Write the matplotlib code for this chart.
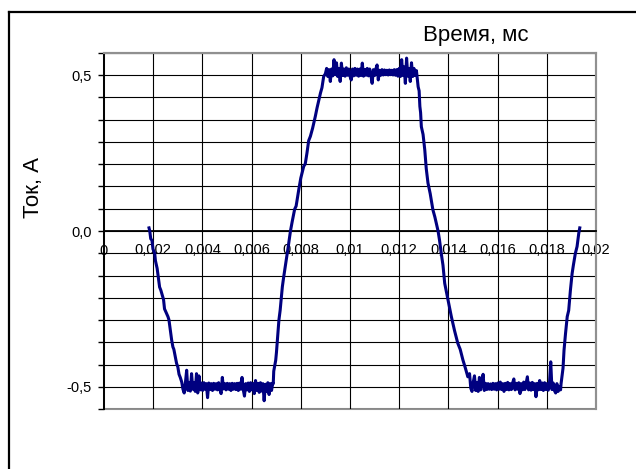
import numpy as np
import matplotlib
matplotlib.use('Agg')
import matplotlib.pyplot as plt
from matplotlib.lines import Line2D
from matplotlib.patches import Rectangle

plt.rcParams['font.family'] = ['Liberation Sans', 'DejaVu Sans']

# ramps: explicit (time, current) points
fall1_t = [0.00183, 0.00186, 0.00190, 0.00195, 0.00199, 0.00206, 0.00209, 0.00216,
           0.00221, 0.00226, 0.00231, 0.00242, 0.00246, 0.0026, 0.00264, 0.0027,
           0.00275, 0.0028, 0.00284, 0.0029, 0.00295, 0.0030, 0.00305, 0.0031]
fall1_i = [0.01, 0.0, -0.025, -0.03, -0.058, -0.071, -0.095, -0.12,
           -0.15, -0.18, -0.19, -0.22, -0.25, -0.275, -0.285, -0.32,
           -0.35, -0.372, -0.38, -0.405, -0.425, -0.436, -0.46, -0.47]

rise1_t = [0.00688, 0.00690, 0.00698, 0.00701, 0.00705, 0.00711, 0.00716, 0.00725,
           0.00730, 0.00745, 0.00749, 0.00758, 0.00765, 0.00775, 0.00781, 0.00792,
           0.00800, 0.00812, 0.00818, 0.00825, 0.00832, 0.00839, 0.00848, 0.00859,
           0.00866, 0.0088, 0.00886, 0.00893]
rise1_i = [-0.49, -0.45, -0.415, -0.39, -0.35, -0.286, -0.255, -0.179,
           -0.15, -0.071, -0.05, 0.0, 0.03, 0.07, 0.08, 0.134,
           0.17, 0.208, 0.215, 0.25, 0.29, 0.304, 0.33, 0.368,
           0.395, 0.443, 0.46, 0.496]

fall2_t = [0.01275, 0.01277, 0.01281, 0.01284, 0.01287, 0.0129, 0.01297, 0.01304,
           0.01310, 0.01317, 0.01326, 0.01337, 0.01345, 0.01358, 0.01364, 0.01371,
           0.01378, 0.01385, 0.01398, 0.01412, 0.01425, 0.01438, 0.01448, 0.01459,
           0.01469, 0.01479]
fall2_i = [0.48, 0.463, 0.45, 0.4, 0.38, 0.335, 0.31, 0.26,
           0.2, 0.154, 0.12, 0.068, 0.045, 0.0, -0.03, -0.072,
           -0.11, -0.168, -0.22, -0.275, -0.32, -0.36, -0.38, -0.414,
           -0.44, -0.468]

rise2_t = [0.01856, 0.01858, 0.01863, 0.01866, 0.0187, 0.01876, 0.01883, 0.01889,
           0.01896, 0.01903, 0.01908, 0.01916, 0.01923, 0.0193, 0.01934]
rise2_i = [-0.51, -0.49, -0.457, -0.44, -0.383, -0.33, -0.275, -0.255,
           -0.19, -0.136, -0.11, -0.072, -0.05, -0.007, 0.01]

# plateaus: sampled every 0.05 us from the start time
step = 0.00005
low1_start = 0.00316
low1 = [-0.485, -0.508, -0.52, -0.487, -0.447, -0.512, -0.486, -0.514, -0.458, -0.508,
        -0.487, -0.515, -0.458, -0.52, -0.465, -0.51, -0.488, -0.512, -0.487, -0.508,
        -0.49, -0.535, -0.488, -0.509, -0.49, -0.512, -0.489, -0.508, -0.49, -0.51,
        -0.487, -0.508, -0.522, -0.47, -0.507, -0.49, -0.51, -0.489, -0.508, -0.49,
        -0.512, -0.489, -0.508, -0.49, -0.509, -0.489, -0.512, -0.488, -0.508, -0.47,
        -0.509, -0.53, -0.49, -0.51, -0.488, -0.515, -0.487, -0.51, -0.49, -0.522,
        -0.48, -0.512, -0.489, -0.518, -0.487, -0.514, -0.49, -0.545, -0.492, -0.515,
        -0.487, -0.525, -0.49, -0.512, -0.488]

high_start = 0.00900
high = [0.505, 0.522, 0.496, 0.518, 0.48, 0.52, 0.498, 0.55, 0.502, 0.54,
        0.496, 0.522, 0.48, 0.539, 0.499, 0.52, 0.497, 0.524, 0.5, 0.52,
        0.497, 0.485, 0.52, 0.498, 0.522, 0.5, 0.52, 0.497, 0.52, 0.499,
        0.539, 0.497, 0.518, 0.5, 0.522, 0.498, 0.52, 0.5, 0.474, 0.518,
        0.499, 0.52, 0.533, 0.485, 0.516, 0.5, 0.518, 0.501, 0.517, 0.502,
        0.516, 0.501, 0.517, 0.502, 0.516, 0.501, 0.518, 0.5, 0.518, 0.497,
        0.522, 0.496, 0.55, 0.499, 0.527, 0.474, 0.555, 0.497, 0.522, 0.48,
        0.54, 0.496, 0.522, 0.499, 0.515]

low2_start = 0.01486
low2 = [-0.458, -0.505, -0.515, -0.485, -0.465, -0.512, -0.486, -0.515, -0.47, -0.51,
        -0.487, -0.46, -0.512, -0.489, -0.509, -0.49, -0.508, -0.491, -0.509, -0.489,
        -0.508, -0.49, -0.51, -0.488, -0.508, -0.485, -0.509, -0.49, -0.515, -0.489,
        -0.509, -0.486, -0.51, -0.49, -0.509, -0.488, -0.475, -0.51, -0.489, -0.508,
        -0.487, -0.522, -0.49, -0.51, -0.485, -0.509, -0.489, -0.468, -0.51, -0.488,
        -0.511, -0.486, -0.509, -0.49, -0.532, -0.489, -0.51, -0.48, -0.509, -0.488,
        -0.512, -0.487, -0.509, -0.49, -0.511, -0.487, -0.42, -0.509, -0.488, -0.512,
        -0.52, -0.49, -0.515, -0.5]

x_ticks = [0, 0.002, 0.004, 0.006, 0.008, 0.01, 0.012, 0.014, 0.016, 0.018, 0.02]
x_labels = ['0', '0,002', '0,004', '0,006', '0,008', '0,01', '0,012', '0,014',
            '0,016', '0,018', '0,02']
y_labels = {-0.5: '-0,5', 0.0: '0,0', 0.5: '0,5'}


def plateau_times(start, values):
    return list(start + step * np.arange(len(values)))


t = (fall1_t + plateau_times(low1_start, low1) + rise1_t
     + plateau_times(high_start, high) + fall2_t
     + plateau_times(low2_start, low2) + rise2_t)
cur = fall1_i + low1 + rise1_i + high + fall2_i + low2 + rise2_i

fig = plt.figure(figsize=(6.36, 4.69), dpi=100)
ax = fig.add_axes([104 / 636, 1 - 409 / 469, 492 / 636, 356 / 469])

ymax = 0.5 + 0.5 / 7
ax.set_xlim(0, 0.02)
ax.set_ylim(-ymax, ymax)

# grid
yt = np.arange(-8, 9) * (0.5 / 7)
for y in yt:
    ax.axhline(y, color='black', lw=0.8, zorder=1)
for x in x_ticks[1:-1]:
    ax.axvline(x, color='black', lw=0.8, zorder=1)

ax.plot(t, cur, color='#000080', lw=2.2, zorder=3)

# axes styling
ax.set_yticks(yt)
ax.set_yticklabels([y_labels.get(round(v, 3), '') for v in yt], fontsize=10.5)
ax.tick_params(axis='y', length=4, width=1, direction='out', pad=5)

ax.spines['bottom'].set_position(('data', 0))
ax.spines['bottom'].set_linewidth(1.3)
ax.spines['left'].set_linewidth(1.4)
for s in ['top', 'right']:
    ax.spines[s].set_color('#909090')
    ax.spines[s].set_linewidth(1.5)
ax.add_patch(Rectangle((0, 0), 1, 1, transform=ax.transAxes, fill=False,
                       edgecolor='#909090', lw=1.5, zorder=0, clip_on=False))

ax.set_xticks(x_ticks)
ax.set_xticklabels(x_labels, fontsize=10.5)
ax.tick_params(axis='x', length=0, pad=9)

fig.text(476 / 636, 1 - 35 / 469, 'Время, мс', fontsize=16, ha='center', va='center')
fig.text(34 / 636, 1 - 187 / 469, 'Ток, А', fontsize=16, rotation=90,
         ha='center', va='center')

# outer frame (top and left edges of the cropped chart area)
fig.add_artist(Line2D([9 / 636, 9 / 636], [0, 1 - 12 / 469], color='black', lw=1.6))
fig.add_artist(Line2D([9 / 636, 1], [1 - 12 / 469, 1 - 12 / 469], color='black', lw=1.6))

fig.savefig('out.png', dpi=100)
